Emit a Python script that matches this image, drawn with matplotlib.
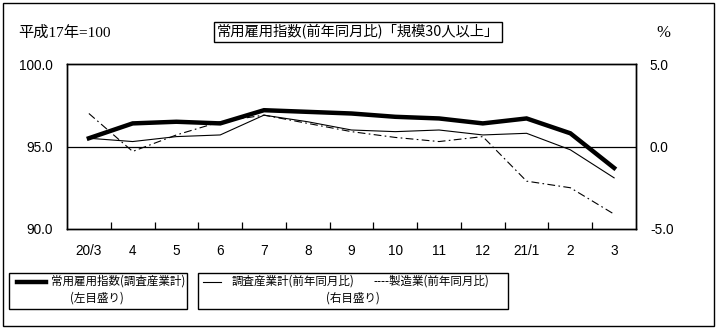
import matplotlib
matplotlib.use("Agg")
import matplotlib.pyplot as plt
from matplotlib.lines import Line2D
from matplotlib.patches import Rectangle

plt.rcParams['font.family'] = ['Liberation Sans', 'Noto Sans CJK JP', 'DejaVu Sans']

# 月別データ
months = ['20/3', '4', '5', '6', '7', '8', '9', '10', '11', '12', '21/1', '2', '3']
index_total = [95.5, 96.4, 96.5, 96.4, 97.2, 97.1, 97.0, 96.8, 96.7, 96.4, 96.7, 95.8, 93.7]
yoy_total = [0.5, 0.3, 0.6, 0.7, 1.9, 1.5, 1.0, 0.9, 1.0, 0.7, 0.8, -0.2, -1.9]
yoy_manuf = [2.0, -0.3, 0.7, 1.5, 1.9, 1.4, 0.9, 0.55, 0.3, 0.6, -2.1, -2.5, -4.1]

left_ticks = [90.0, 95.0, 100.0]
right_ticks = [-5.0, 0.0, 5.0]

W, H = 718, 330
JP = ['Noto Sans CJK JP']


def fx(x):
    return x / W


def fy(y):
    return 1 - y / H


fig = plt.figure(figsize=(W / 100, H / 100), dpi=100)
fig.patch.set_facecolor('white')

# 外枠
fig.add_artist(Rectangle((fx(3), fy(326)), fx(711), (323) / H, transform=fig.transFigure,
                         fill=False, edgecolor='black', linewidth=1.0))

ax = fig.add_axes([fx(67), fy(229), fx(636 - 67), (229 - 64) / H])
ax2 = ax.twinx()

xs = list(range(len(months)))
ax.plot(xs, index_total, color='black', linewidth=3.2, solid_joinstyle='miter', zorder=5)
ax2.plot(xs, yoy_total, color='black', linewidth=0.8, zorder=3)
ax2.plot(xs, yoy_manuf, color='black', linewidth=0.8, dashes=(7, 3, 1.5, 3), zorder=3)
ax2.axhline(0, color='black', linewidth=0.9)

ax.set_xlim(-0.5, len(months) - 0.5)
ax.set_ylim(90, 100)
ax2.set_ylim(-5, 5)

ax.set_yticks(left_ticks)
ax.set_yticklabels([f'{v:.1f}' for v in left_ticks], fontsize=9.8)
ax2.set_yticks(right_ticks)
ax2.set_yticklabels([f'{v:.1f}' for v in right_ticks], fontsize=9.8)
ax.tick_params(axis='y', length=0, pad=10)
ax2.tick_params(axis='y', length=0, pad=10)

# 区切りの目盛り
ax.set_xticks([i + 0.5 for i in range(len(months) - 1)], minor=False)
ax.set_xticklabels([])
ax.tick_params(axis='x', direction='in', length=5, width=0.9)
ax.set_xticks(xs, minor=True)
ax.set_xticklabels(months, minor=True, fontsize=9.8)
ax.tick_params(axis='x', which='minor', length=0, pad=11)

for a in (ax, ax2):
    for s in a.spines.values():
        s.set_linewidth(1.0)

fig.text(fx(18), fy(33), '平成17年=100', family=['Liberation Serif', 'Noto Sans CJK JP'],
         fontsize=11, va='center', ha='left')
fig.text(fx(663), fy(33), '%', family=['Liberation Serif'], fontsize=12,
         va='center', ha='center')
fig.text(fx(358), fy(32), '常用雇用指数(前年同月比)「規模30人以上」', family=JP,
         fontsize=10.3, va='center', ha='center',
         bbox=dict(boxstyle='square,pad=0.2', facecolor='white', edgecolor='black',
                   linewidth=1.0))

# 凡例
fig.add_artist(Rectangle((fx(9), fy(309)), fx(178), 36 / H, transform=fig.transFigure,
                         fill=False, edgecolor='black', linewidth=1.0))
fig.add_artist(Rectangle((fx(198), fy(309)), fx(310), 36 / H, transform=fig.transFigure,
                         fill=False, edgecolor='black', linewidth=1.0))

fig.add_artist(Line2D([fx(17), fx(46)], [fy(282), fy(282)], transform=fig.transFigure,
                      color='black', linewidth=3.2))
fig.text(fx(51), fy(281), '常用雇用指数(調査産業計)', family=JP, fontsize=8.3,
         va='center', ha='left')
fig.text(fx(97), fy(298), '(左目盛り)', family=JP, fontsize=8.3, va='center', ha='center')

fig.add_artist(Line2D([fx(203), fx(221)], [fy(282), fy(282)], transform=fig.transFigure,
                      color='black', linewidth=0.8))
fig.text(fx(232), fy(281), '調査産業計(前年同月比)', family=JP, fontsize=8.3,
         va='center', ha='left')
fig.text(fx(373), fy(281), '----製造業(前年同月比)', family=JP, fontsize=8.3,
         va='center', ha='left')
fig.text(fx(353), fy(298), '(右目盛り)', family=JP, fontsize=8.3, va='center', ha='center')

fig.savefig('out.png', dpi=100, facecolor='white')
